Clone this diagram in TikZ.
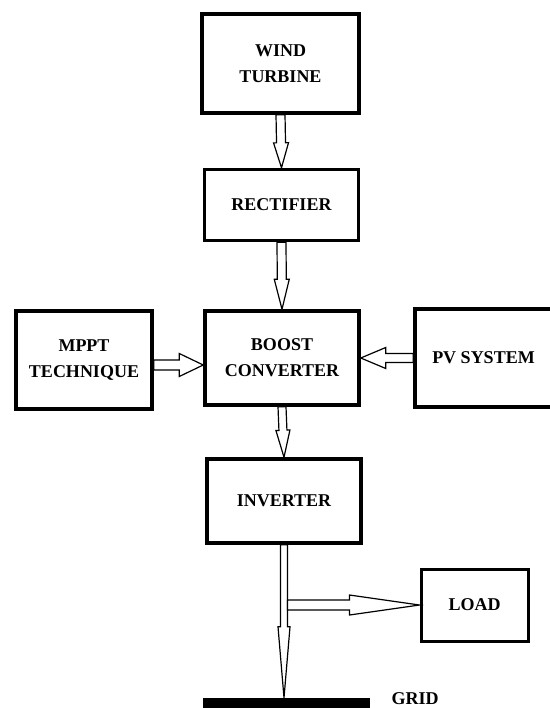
\documentclass[tikz,border=0pt]{standalone}
\usepackage{fontspec}
\setmainfont{Liberation Serif}
\usetikzlibrary{calc}
\tikzset{unit/.style={draw,line width=3.5pt,align=center,inner sep=0pt,font=\bfseries\fontsize{18}{26}\selectfont},
hollow/.style n args={3}{draw,line width=1.2pt,fill=white,to path={
($(\tikztostart)!#1!90:(\tikztotarget)$) -- ($($(\tikztotarget)!#3!(\tikztostart)$)!#1!90:(\tikztotarget)$)
-- ($($(\tikztotarget)!#3!(\tikztostart)$)!#2!90:(\tikztotarget)$) -- (\tikztotarget)
-- ($($(\tikztotarget)!#3!(\tikztostart)$)!#2!-90:(\tikztotarget)$) -- ($($(\tikztotarget)!#3!(\tikztostart)$)!#1!-90:(\tikztotarget)$)
-- ($(\tikztostart)!#1!-90:(\tikztotarget)$) -- cycle}}}

\begin{document}
\begin{tikzpicture}[x=1pt,y=-1pt]
\useasboundingbox (0,0) rectangle (549,708);
\node[unit,minimum width=157pt,minimum height=99pt] (wind) at (280.5,63.5) {WIND\\TURBINE};
\node[unit,minimum width=154pt,minimum height=71pt] (rectifier) at (281.5,205) {RECTIFIER};
\node[unit,minimum width=154pt,minimum height=94pt] (boost) at (282,358) {BOOST\\CONVERTER};
\node[unit,minimum width=136pt,minimum height=98pt] (mppt) at (84,360) {MPPT\\TECHNIQUE};
\node[unit,minimum width=137pt,minimum height=98pt] (pv) at (483.5,358) {PV SYSTEM};
\node[unit,minimum width=154pt,minimum height=84pt] (inverter) at (284,501) {INVERTER};
\node[unit,line width=3pt,minimum width=107pt,minimum height=72pt] (load) at (474.5,605) {LOAD};
\node[fill=black,inner sep=0pt,minimum width=167pt,minimum height=11pt] (grid) at (286.5,703.5) {};
\node[font=\bfseries\fontsize{18}{26}\selectfont,inner sep=0pt,anchor=base] (gridlabel) at (415,704) {GRID};
\coordinate (tap) at ([xshift=3.5pt]inverter.south |- load.west);
\draw[hollow={4.5pt}{7.5pt}{25pt}] (wind.south) to (rectifier.north);
\draw[hollow={4.5pt}{7.5pt}{30pt}] (rectifier.south) to (boost.north);
\draw[hollow={5pt}{11.5pt}{24pt}] ([yshift=-5pt]mppt.east) to ([yshift=-5pt]mppt.east -| boost.west);
\draw[hollow={4.5pt}{10.5pt}{25pt}] (pv.west) to (pv.west -| boost.east);
\draw[hollow={4pt}{7pt}{27pt}] (boost.south) to (inverter.north);
\draw[hollow={3.5pt}{6pt}{71pt}] (inverter.south) to (inverter.south |- grid.north);
\draw[hollow={5pt}{10pt}{70pt}] (tap) to (load.west);
\end{tikzpicture}
\end{document}
